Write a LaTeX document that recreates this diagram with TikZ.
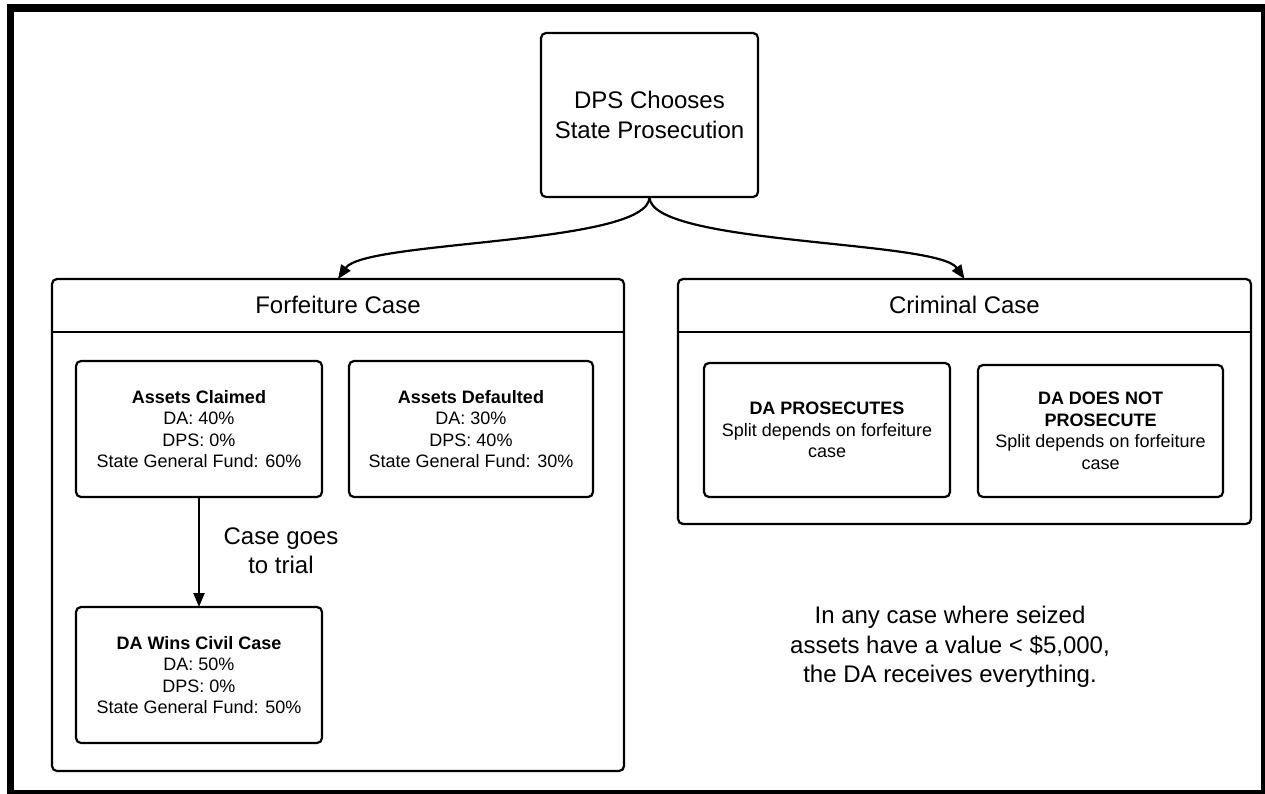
\documentclass[tikz,border=0pt]{standalone}
\usepackage{fontspec}
\setmainfont{Liberation Sans}
\usepackage{tikz}
\usetikzlibrary{positioning,arrows.meta}

\begin{document}
\begin{tikzpicture}[
    x=1pt, y=-1pt,
    panel/.style={draw, line width=2.2pt, rounded corners=5pt, outer sep=0pt},
    share/.style={draw, line width=2.2pt, rounded corners=5pt, outer sep=0pt, align=center, font=\fontsize{18}{21.5}\selectfont},
    heading/.style={align=center, font=\fontsize{24}{30}\selectfont},
    flow/.style={-{Triangle[length=14pt,width=11pt]}, line width=2.2pt}
  ]
  \useasboundingbox (0,0) rectangle (1265,794);
  % Outer frame
  \draw[line width=7.5pt] (10.5,8) rectangle (1264.5,793.5);

  % Top decision
  \node[share, font=\fontsize{24}{30}\selectfont, minimum width=217pt, minimum height=164pt] (dps) at (649.5,115) {DPS Chooses\\State Prosecution};

  % Forfeiture container
  \node[panel, minimum width=572pt, minimum height=492pt] (forfeit) at (338,525) {};
  \node[heading] (forfeittitle) at (338,305) {Forfeiture Case};
  \draw[line width=2.2pt] (forfeit.west |- 0,332) -- (forfeit.east |- 0,332);

  % Criminal container
  \node[panel, minimum width=573pt, minimum height=245pt] (criminal) at (964.5,401.5) {};
  \node[heading] (criminaltitle) at (964.5,305) {Criminal Case};
  \draw[line width=2.2pt] (criminal.west |- 0,332) -- (criminal.east |- 0,332);

  % Forfeiture outcomes
  \node[share, minimum width=246pt, minimum height=136pt] (claimed) at (199,429)
    {\textbf{Assets Claimed}\\DA: 40\%\\DPS: 0\%\\State General Fund: 60\%};
  \node[share, minimum width=244pt, minimum height=136pt] (defaulted) at (471,429)
    {\textbf{Assets Defaulted}\\DA: 30\%\\DPS: 40\%\\State General Fund: 30\%};
  \node[share, minimum width=246pt, minimum height=136pt] (wins) at (199,675)
    {\textbf{DA Wins Civil Case}\\DA: 50\%\\DPS: 0\%\\State General Fund: 50\%};

  % Criminal outcomes
  \node[share, minimum width=246pt, minimum height=134pt] (prosecutes) at (827,430)
    {\textbf{DA PROSECUTES}\\Split depends on forfeiture\\case};
  \node[share, minimum width=245pt, minimum height=132pt] (noprosecute) at (1100.5,431)
    {\textbf{DA DOES NOT}\\\textbf{PROSECUTE}\\Split depends on forfeiture\\case};

  % Connections
  \draw[flow] (dps.south) .. controls +(0,48) and +(27,-39) .. (forfeit.north);
  \draw[flow] (dps.south) .. controls +(0,48) and +(-27,-39) .. (criminal.north);
  \draw[flow] (claimed) -- (wins);

  % Labels
  \node[heading, font=\fontsize{24}{29}\selectfont] (trial) at (281,551) {Case goes\\to trial};
  \node[heading, font=\fontsize{24}{29.5}\selectfont] (note) at (950,647)
    {In any case where seized\\assets have a value < \$5,000,\\the DA receives everything.};
\end{tikzpicture}
\end{document}
